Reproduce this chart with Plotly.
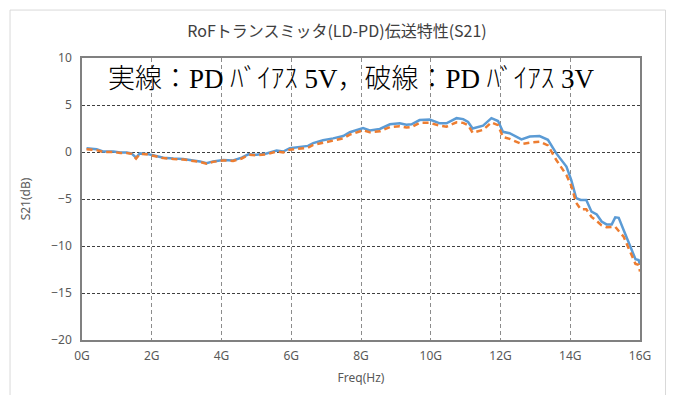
import plotly.graph_objects as go

freq_ghz = [0.13, 0.42, 0.6, 0.9, 1.1, 1.28, 1.42, 1.55, 1.66, 1.85, 2.04, 2.33, 2.62, 2.9,
            3.19, 3.38, 3.57, 3.76, 4.05, 4.33, 4.58, 4.77, 5.0, 5.29, 5.58, 5.77, 5.96,
            6.25, 6.48, 6.63, 6.91, 7.2, 7.49, 7.68, 8.06, 8.25, 8.54, 8.83, 9.11, 9.3,
            9.45, 9.68, 9.97, 10.26, 10.45, 10.74, 10.93, 11.07, 11.2, 11.5, 11.74, 11.93,
            12.07, 12.26, 12.6, 12.84, 13.12, 13.36, 13.6, 13.89, 14.03, 14.17, 14.3,
            14.46, 14.61, 14.76, 14.9, 15.04, 15.19, 15.29, 15.39, 15.53, 15.67, 15.87,
            15.96, 16.0]

s21_bias5v = [0.4, 0.3, 0.05, 0.05, -0.05, -0.05, -0.15, -0.6, -0.15, -0.2, -0.35, -0.6,
              -0.7, -0.75, -0.9, -1.0, -1.2, -1.0, -0.85, -0.9, -0.6, -0.25, -0.3, -0.15,
              0.15, 0.05, 0.4, 0.5, 0.65, 0.95, 1.25, 1.45, 1.7, 2.1, 2.55, 2.3, 2.45, 2.95,
              3.05, 2.9, 2.95, 3.4, 3.45, 3.05, 3.05, 3.6, 3.5, 3.2, 2.5, 2.8, 3.6, 3.3,
              2.15, 2.0, 1.35, 1.65, 1.7, 1.3, -0.15, -1.55, -3.0, -4.9, -5.1, -5.1, -6.35,
              -6.65, -7.4, -7.7, -7.7, -6.95, -7.0, -8.3, -9.5, -11.4, -11.5, -12.0]

s21_bias3v = [0.3, 0.2, 0.0, 0.0, -0.1, -0.1, -0.2, -0.7, -0.2, -0.25, -0.4, -0.65, -0.75,
              -0.8, -0.95, -1.05, -1.25, -1.05, -0.9, -0.95, -0.7, -0.3, -0.35, -0.25, 0.05,
              -0.05, 0.25, 0.35, 0.45, 0.75, 1.0, 1.2, 1.45, 1.85, 2.3, 2.1, 2.2, 2.65, 2.75,
              2.6, 2.65, 3.1, 3.1, 2.8, 2.7, 3.15, 3.1, 2.85, 2.05, 2.35, 3.15, 2.85, 1.6,
              1.4, 0.85, 1.0, 1.1, 0.7, -0.85, -2.45, -3.6, -5.4, -6.1, -6.1, -6.9, -7.35,
              -7.8, -8.0, -7.95, -7.95, -8.4, -9.0, -10.2, -11.9, -12.0, -12.7]

x_tickvals = [0, 2, 4, 6, 8, 10, 12, 14, 16]
x_ticktext = ["0G", "2G", "4G", "6G", "8G", "10G", "12G", "14G", "16G"]
y_tickvals = [-20, -15, -10, -5, 0, 5, 10]

title_text = "RoFトランスミッタ(LD-PD)伝送特性(S21)"
note_text = "実線：PD ﾊﾞｲｱｽ 5V，破線：PD ﾊﾞｲｱｽ 3V"

fig = go.Figure()
fig.add_trace(go.Scatter(x=freq_ghz, y=s21_bias5v, mode="lines",
                         line=dict(color="#5B9BD5", width=2.5), name="PD 5V"))
fig.add_trace(go.Scatter(x=freq_ghz, y=s21_bias3v, mode="lines",
                         line=dict(color="#ED7D31", width=2.5, dash="6px,4px"), name="PD 3V"))

fig.add_annotation(x=7.74, y=7.75, xref="x", yref="y", text=note_text, showarrow=False,
                   font=dict(family="Liberation Serif, Noto Sans CJK JP", size=27,
                             color="#000000", weight=300))

# outer chart-area border
fig.add_shape(type="rect", xref="paper", yref="paper", x0=-0.129, x1=1.0457, y0=-0.3, y1=1.170,
              line=dict(color="#d9d9d9", width=1), layer="below")

fig.update_layout(
    width=658, height=387,
    margin=dict(l=74, r=26, t=50, b=55),
    paper_bgcolor="white", plot_bgcolor="white",
    showlegend=False,
    title=dict(text=title_text, x=0.5, xref="container", xanchor="center",
               y=0.94, yref="container", yanchor="middle",
               font=dict(family="Noto Sans CJK JP", size=16, color="#404040")),
    font=dict(family="Noto Sans, Noto Sans CJK JP", color="#595959"),
)
fig.update_xaxes(range=[0, 16], tickvals=x_tickvals, ticktext=x_ticktext,
                 showgrid=True, gridcolor="#8c8c8c", griddash="4px,3px", gridwidth=1,
                 showline=True, linecolor="#808080", linewidth=1.5, mirror=True,
                 zeroline=False, ticks="", ticklabelstandoff=4,
                 tickfont=dict(size=12, color="#595959"),
                 title=dict(text="Freq(Hz)", font=dict(size=12, color="#595959"), standoff=10))
fig.update_yaxes(range=[-20, 10], tickvals=y_tickvals,
                 showgrid=True, gridcolor="#404040", griddash="3px,2px", gridwidth=1,
                 showline=True, linecolor="#808080", linewidth=1.5, mirror=True,
                 zeroline=False, ticks="", ticklabelstandoff=6,
                 tickfont=dict(size=12, color="#595959"),
                 title=dict(text="S21(dB)", font=dict(size=12, color="#595959"), standoff=18))

fig.write_html("out.html")
